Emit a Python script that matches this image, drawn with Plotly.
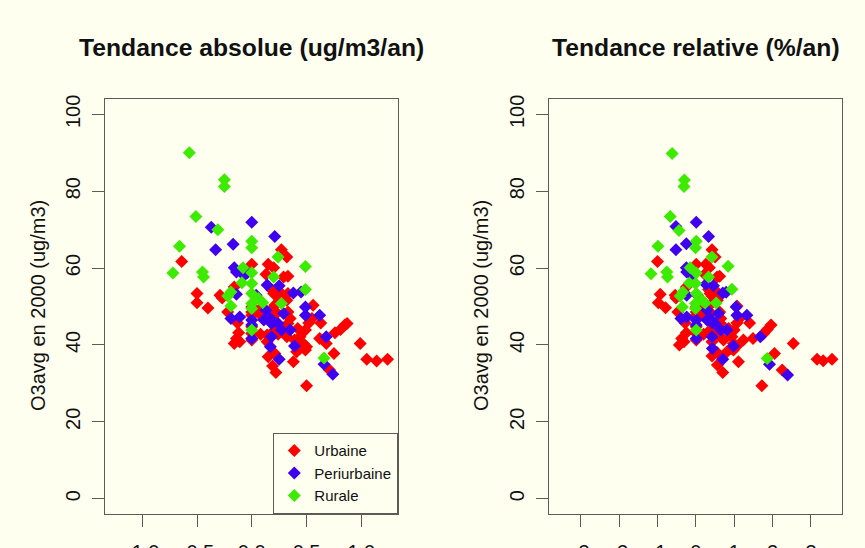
import plotly.graph_objects as go

# ---------------- data: left panel (absolute trend, ug/m3/an) ----------------
abs_urb_x = [-0.64, 0.27, 0.32, 0.0, 0.15, 0.20, 0.13, 0.29, 0.33, -0.50, -0.50, -0.40, -0.29, -0.27,
             -0.16, -0.22, -0.13, -0.12, -0.14, -0.16, -0.11, 0.0, 0.0, 0.0, 0.0, 0.0, 0.0,
             0.08, 0.08, 0.08, 0.18, 0.20, 0.23, 0.27, 0.33, 0.32, 0.21, 0.18, 0.23, 0.33, 0.35,
             0.33, 0.26, 0.21, 0.24, 0.32, 0.42, 0.44, 0.49, 0.52, 0.56, 0.55, 0.63, 0.62, 0.39,
             0.47, 0.50, 0.44, 0.41, 0.49, 0.68, 0.76, 0.81, 0.85, 0.87, 0.14, 0.14, 0.15, 0.21,
             0.19, 0.22, 0.38, 0.75, 0.71, 0.99, 1.05, 1.14, 1.24, 0.50]
abs_urb_y = [61.7, 64.8, 62.9, 61.0, 61.0, 60.1, 58.4, 57.7, 57.9, 53.4, 51.0, 49.6, 52.9, 52.2,
             55.1, 48.6, 45.7, 43.2, 41.7, 40.4, 40.8, 49.9, 48.6, 47.7, 44.7, 43.0, 41.3,
             49.5, 47.7, 42.8, 54.4, 53.4, 52.7, 53.4, 53.4, 51.6, 50.3, 49.0, 48.3, 48.6, 46.9,
             45.6, 44.7, 43.9, 42.8, 42.1, 44.3, 42.1, 43.9, 45.7, 50.3, 46.9, 45.7, 41.7, 41.3,
             40.4, 39.5, 39.1, 38.2, 38.7, 40.4, 43.2, 44.0, 45.2, 45.6, 42.6, 40.8, 36.9, 37.8,
             34.5, 32.8, 35.6, 37.8, 33.5, 40.4, 36.3, 35.8, 36.3, 29.4]
abs_peri_x = [0.0, -0.37, 0.21, -0.17, -0.33, -0.16, -0.14, -0.07, -0.04, 0.14, 0.25, -0.14,
              0.04, 0.38, 0.45, 0.49, 0.49, 0.62, 0.29, 0.13, 0.17, 0.11, 0.18, 0.24, -0.19,
              -0.11, 0.0, 0.0, 0.0, 0.27, 0.35, 0.18, 0.17, 0.39, 0.68, 0.25, 0.66, 0.74]
abs_peri_y = [71.9, 70.6, 68.2, 66.2, 64.8, 60.1, 59.0, 58.1, 58.8, 55.6, 55.4, 53.2,
              52.9, 53.5, 53.8, 49.9, 47.7, 47.7, 48.2, 49.0, 46.9, 46.5, 45.6, 45.6, 46.9,
              47.3, 46.5, 45.2, 41.7, 43.9, 43.9, 42.1, 39.5, 39.7, 42.1, 36.3, 35.0, 32.4]
abs_rur_x = [-0.57, -0.25, -0.25, -0.51, -0.31, 0.0, 0.0, -0.66, -0.72, -0.45, -0.44, 0.24,
             0.49, -0.08, 0.0, -0.09, 0.0, 0.20, 0.49, 0.0, -0.19, -0.22, 0.06, 0.10, 0.27,
             -0.19, 0.0, 0.0, 0.0, 0.66]
abs_rur_y = [90.0, 83.0, 81.2, 73.4, 70.0, 67.0, 65.3, 65.7, 58.7, 59.0, 57.7, 62.9,
             60.4, 60.1, 58.8, 56.2, 56.0, 57.7, 54.4, 53.4, 53.8, 52.7, 52.1, 51.0, 50.8,
             50.1, 50.8, 49.5, 43.9, 36.6]

# ---------------- data: right panel (relative trend, %/an) ----------------
rel_urb_x = [-1.00, 0.42, 0.50, 0.01, 0.26, 0.35, 0.23, 0.55, 0.62, -0.93, -0.98, -0.79, -0.54, -0.52,
             -0.25, -0.47, -0.28, -0.25, -0.37, -0.43, -0.31, 0.01, 0.01, 0.01, 0.01, 0.01, 0.01,
             0.16, 0.17, 0.20, 0.33, 0.37, 0.42, 0.46, 0.59, 0.56, 0.36, 0.30, 0.39, 0.62, 0.65,
             0.64, 0.46, 0.37, 0.46, 0.64, 0.85, 0.94, 1.00, 1.07, 1.07, 1.14, 1.40, 1.24, 0.72,
             0.98, 1.07, 0.91, 0.81, 0.98, 1.49, 1.77, 1.86, 1.96, 0.53, 0.42, 0.42, 0.55,
             0.56, 0.70, 1.11, 2.05, 2.25, 2.54, 3.16, 3.32, 3.55, 1.72]
rel_urb_y = [61.7, 64.8, 62.9, 61.0, 61.0, 60.1, 58.4, 57.7, 57.9, 53.2, 51.0, 49.7, 52.9, 52.2,
             55.1, 48.6, 45.7, 43.2, 41.7, 40.0, 40.8, 49.9, 48.6, 47.7, 44.7, 43.0, 41.3,
             49.5, 47.7, 42.8, 54.4, 53.4, 52.7, 53.4, 53.4, 51.6, 50.3, 49.0, 48.3, 48.6, 46.9,
             45.6, 44.7, 43.9, 42.8, 42.1, 44.3, 42.1, 43.9, 45.7, 50.1, 46.9, 45.7, 41.3, 41.3,
             40.4, 39.7, 39.1, 38.2, 38.7, 41.7, 43.0, 44.0, 45.2, 42.6, 40.8, 37.1, 38.0,
             34.8, 32.8, 35.6, 37.8, 33.5, 40.4, 36.3, 35.9, 36.3, 29.4]
rel_peri_x = [0.01, -0.52, 0.33, -0.25, -0.52, -0.25, -0.24, -0.10, -0.06, 0.26, 0.46, -0.24,
              0.04, 0.70, 0.79, 1.05, 1.07, 1.33, 0.59, 0.29, 0.36, 0.29, 0.42, 0.50, -0.39,
              -0.24, 0.01, 0.01, 0.01, 0.65, 0.81, 0.42, 0.43, 0.98, 1.68, 0.70, 1.92, 2.39]
rel_peri_y = [71.9, 70.8, 68.2, 66.3, 64.8, 60.1, 59.0, 58.1, 58.8, 55.8, 55.4, 52.9,
              52.9, 53.5, 53.7, 49.9, 47.7, 47.7, 48.2, 49.0, 47.0, 46.5, 45.8, 45.6, 46.9,
              47.3, 46.5, 45.2, 41.7, 43.9, 43.9, 42.1, 39.1, 39.7, 42.1, 36.3, 35.0, 32.2]
rel_rur_x = [-0.62, -0.30, -0.31, -0.67, -0.44, 0.01, -0.01, -0.99, -1.17, -0.76, -0.74, 0.42,
             0.84, -0.15, 0.01, -0.17, -0.01, 0.33, 0.94, 0.01, -0.34, -0.41, 0.16, 0.24, 0.53,
             -0.35, -0.01, -0.01, 0.01, 1.86]
rel_rur_y = [89.8, 82.9, 81.2, 73.4, 69.8, 67.0, 65.3, 65.7, 58.5, 59.0, 57.7, 62.9,
             60.5, 60.1, 58.7, 56.1, 56.0, 57.7, 54.5, 53.4, 53.8, 52.7, 51.6, 50.9, 50.9,
             49.9, 50.8, 49.5, 43.9, 36.5]

series_names = ["Urbaine", "Periurbaine", "Rurale"]
series_colors = ["#FF0000", "#4000F0", "#3CEB00"]

abs_x_ticks = [-1.0, -0.5, 0.0, 0.5, 1.0]
abs_x_labels = ["-1.0", "-0.5", "0.0", "0.5", "1.0"]
rel_x_ticks = [-3, -2, -1, 0, 1, 2, 3]
rel_x_labels = ["-3", "-2", "-1", "0", "1", "2", "3"]
y_ticks = [0, 20, 40, 60, 80, 100]
y_labels = ["0", "20", "40", "60", "80", "100"]

titles = ["Tendance absolue (ug/m3/an)", "Tendance relative (%/an)"]
y_title = "O3avg en 2000 (ug/m3)"

# ---------------- figure ----------------
W, H = 865, 548
BG = "#FFFFF0"
AX = "#5f5a55"
FONT = "Liberation Sans, Arial, Helvetica, sans-serif"

fig = go.Figure()

left = [(abs_urb_x, abs_urb_y), (abs_peri_x, abs_peri_y), (abs_rur_x, abs_rur_y)]
right = [(rel_urb_x, rel_urb_y), (rel_peri_x, rel_peri_y), (rel_rur_x, rel_rur_y)]

for i, (xs, ys) in enumerate(left):
    fig.add_trace(go.Scatter(x=xs, y=ys, mode="markers", name=series_names[i],
                             marker=dict(symbol="diamond", size=10, color=series_colors[i],
                                         line=dict(width=0)),
                             xaxis="x", yaxis="y", showlegend=True))
for i, (xs, ys) in enumerate(right):
    fig.add_trace(go.Scatter(x=xs, y=ys, mode="markers", name=series_names[i],
                             marker=dict(symbol="diamond", size=10, color=series_colors[i],
                                         line=dict(width=0)),
                             xaxis="x2", yaxis="y2", showlegend=False))

def px_x(p):
    return p / W

def px_y(p):
    return 1 - p / H

ydom = [px_y(514), px_y(99)]
axis_common = dict(showgrid=False, zeroline=False, showline=True, mirror=True,
                   linecolor=AX, linewidth=1.3, ticks="outside", ticklen=12,
                   tickcolor=AX, tickwidth=1.3, automargin=False,
                   tickfont=dict(family=FONT, size=20, color="#111111"))

fig.update_layout(
    width=W, height=H,
    margin=dict(l=0, r=0, t=0, b=0),
    paper_bgcolor=BG, plot_bgcolor=BG,
    xaxis=dict(domain=[px_x(105), px_x(398)], range=[-1.34, 1.335],
               tickmode="array", tickvals=abs_x_ticks, ticktext=abs_x_labels,
               anchor="y", ticklabelstandoff=8, **axis_common),
    yaxis=dict(domain=ydom, range=[-4, 104], tickmode="array",
               tickvals=y_ticks, ticktext=y_labels, tickangle=-90,
               anchor="x", ticklabelstandoff=4, **axis_common),
    xaxis2=dict(domain=[px_x(549), px_x(842)], range=[-3.83, 3.81],
                tickmode="array", tickvals=rel_x_ticks, ticktext=rel_x_labels,
                anchor="y2", ticklabelstandoff=8, **axis_common),
    yaxis2=dict(domain=ydom, range=[-4, 104], tickmode="array",
                tickvals=y_ticks, ticktext=y_labels, tickangle=-90,
                anchor="x2", ticklabelstandoff=4, **axis_common),
    legend=dict(x=px_x(398), xanchor="right", y=px_y(514), yanchor="bottom",
                bgcolor=BG, bordercolor=AX, borderwidth=1.3,
                font=dict(family=FONT, size=15, color="#111111"),
                itemwidth=30, tracegroupgap=0),
    showlegend=True,
)

annotations = []
for t, cx in zip(titles, [251.5, 695.5]):
    annotations.append(dict(text="<b>" + t + "</b>", x=px_x(cx), y=px_y(47),
                            xref="paper", yref="paper", showarrow=False,
                            xanchor="center", yanchor="middle",
                            font=dict(family=FONT, size=24.7, color="#111111")))
for cx in [38, 481]:
    annotations.append(dict(text=y_title, x=px_x(cx), y=px_y(306), textangle=-90,
                            xref="paper", yref="paper", showarrow=False,
                            xanchor="center", yanchor="middle",
                            font=dict(family=FONT, size=20, color="#111111")))
fig.update_layout(annotations=annotations)

fig.write_html("out.html")
